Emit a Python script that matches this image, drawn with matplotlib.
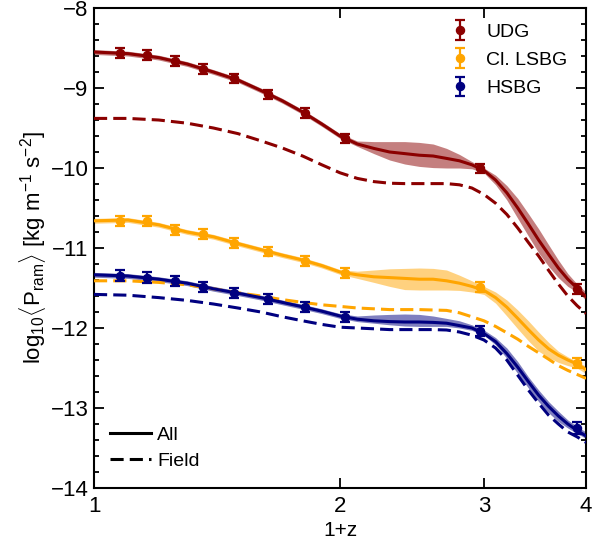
import numpy as np
import matplotlib
matplotlib.use("Agg")
import matplotlib.pyplot as plt
from matplotlib.lines import Line2D
from matplotlib.ticker import FixedLocator, NullLocator, MultipleLocator

plt.rcParams["font.family"] = ["Liberation Sans", "DejaVu Sans"]
plt.rcParams["mathtext.fontset"] = "custom"
plt.rcParams["mathtext.rm"] = "Liberation Sans"
plt.rcParams["mathtext.it"] = "Liberation Sans:italic"

x_grid = [1.0, 1.1, 1.2, 1.3, 1.4, 1.5, 1.6, 1.7, 1.8, 1.9, 2.0,
          2.1, 2.2, 2.3, 2.4, 2.5, 2.6, 2.7, 2.8, 2.9, 3.0,
          3.1, 3.2, 3.3, 3.4, 3.5, 3.6, 3.7, 3.8, 3.9, 4.0]

udg_all = [-8.55, -8.57, -8.62, -8.70, -8.80, -8.90, -9.03, -9.16, -9.30, -9.45, -9.60,
           -9.70, -9.755, -9.80, -9.82, -9.84, -9.85, -9.88, -9.91, -9.96, -10.03,
           -10.15, -10.31, -10.50, -10.70, -10.90, -11.08, -11.25, -11.39, -11.50, -11.61]
udg_hi = [-8.52, -8.54, -8.59, -8.67, -8.77, -8.87, -9.00, -9.13, -9.27, -9.42, -9.57,
          -9.6625, -9.67, -9.67, -9.67, -9.68, -9.70, -9.755, -9.83, -9.92, -10.00,
          -10.09, -10.22, -10.38, -10.57, -10.76, -10.96, -11.15, -11.32, -11.45, -11.55]
udg_lo = [-8.58, -8.60, -8.65, -8.73, -8.83, -8.93, -9.06, -9.19, -9.33, -9.48, -9.63,
          -9.73, -9.82, -9.90, -9.95, -9.98, -9.995, -10.00, -10.00, -10.01, -10.06,
          -10.21, -10.40, -10.63, -10.85, -11.06, -11.23, -11.37, -11.48, -11.55, -11.65]
udg_field = [-9.38, -9.38, -9.40, -9.44, -9.50, -9.57, -9.66, -9.75, -9.85, -9.96, -10.06,
             -10.13, -10.17, -10.19, -10.195, -10.195, -10.195, -10.195, -10.21, -10.25, -10.33,
             -10.44, -10.58, -10.75, -10.93, -11.10, -11.28, -11.45, -11.60, -11.72, -11.82]

lsbg_all = [-10.66, -10.65, -10.71, -10.80, -10.86, -10.945, -11.02, -11.09, -11.15, -11.22, -11.30,
            -11.335, -11.36, -11.37, -11.38, -11.39, -11.39, -11.41, -11.44, -11.48, -11.53,
            -11.62, -11.74, -11.88, -12.02, -12.15, -12.26, -12.34, -12.40, -12.45, -12.52]
lsbg_hi = [-10.63, -10.62, -10.68, -10.77, -10.83, -10.915, -10.99, -11.06, -11.12, -11.19, -11.27,
           -11.29, -11.275, -11.26, -11.255, -11.25, -11.255, -11.275, -11.34, -11.41, -11.48,
           -11.55, -11.65, -11.775, -11.91, -12.05, -12.18, -12.29, -12.36, -12.42, -12.48]
lsbg_lo = [-10.69, -10.68, -10.74, -10.83, -10.89, -10.975, -11.05, -11.12, -11.18, -11.25, -11.33,
           -11.38, -11.43, -11.48, -11.52, -11.525, -11.525, -11.525, -11.53, -11.55, -11.58,
           -11.69, -11.85, -12.01, -12.16, -12.29, -12.37, -12.43, -12.47, -12.50, -12.57]
lsbg_field = [-11.41, -11.41, -11.43, -11.46, -11.51, -11.56, -11.60, -11.645, -11.68, -11.71, -11.73,
              -11.75, -11.76, -11.77, -11.77, -11.77, -11.775, -11.78, -11.81, -11.86, -11.91,
              -11.98, -12.06, -12.14, -12.23, -12.31, -12.39, -12.47, -12.53, -12.58, -12.63]

hsbg_all = [-11.335, -11.35, -11.39, -11.44, -11.51, -11.565, -11.62, -11.68, -11.735, -11.79, -11.85,
            -11.89, -11.91, -11.92, -11.925, -11.925, -11.93, -11.94, -11.97, -12.00, -12.07,
            -12.17, -12.32, -12.49, -12.67, -12.84, -12.98, -13.10, -13.20, -13.28, -13.35]
hsbg_hi = [-11.305, -11.32, -11.36, -11.41, -11.48, -11.535, -11.59, -11.65, -11.705, -11.76, -11.82,
           -11.85, -11.8375, -11.83, -11.825, -11.83, -11.85, -11.88, -11.91, -11.96, -12.025,
           -12.12, -12.25, -12.42, -12.61, -12.775, -12.92, -13.04, -13.15, -13.23, -13.30]
hsbg_lo = [-11.365, -11.38, -11.42, -11.47, -11.54, -11.595, -11.65, -11.71, -11.765, -11.82, -11.88,
           -11.92, -11.94, -11.96, -11.975, -11.98, -11.98, -11.98, -12.00, -12.03, -12.09,
           -12.21, -12.38, -12.57, -12.75, -12.92, -13.06, -13.17, -13.25, -13.32, -13.38]
hsbg_field = [-11.58, -11.59, -11.62, -11.655, -11.70, -11.75, -11.80, -11.86, -11.91, -11.955, -11.99,
              -12.00, -12.01, -12.02, -12.02, -12.02, -12.02, -12.025, -12.05, -12.09, -12.15,
              -12.25, -12.40, -12.59, -12.775, -12.94, -13.09, -13.20, -13.30, -13.36, -13.43]

# ── measured points ───────────────────────────────────────────────
pt_x = [1.076, 1.160, 1.256, 1.361, 1.484, 1.634, 1.812, 2.028, 2.967, 3.896]
udg_pts = [-8.566, -8.588, -8.663, -8.763, -8.879, -9.079, -9.316, -9.629, -10.004, -11.51]
udg_err = [0.06, 0.06, 0.06, 0.06, 0.06, 0.06, 0.06, 0.06, 0.06, 0.06]
lsbg_pts = [-10.659, -10.659, -10.775, -10.825, -10.934, -11.046, -11.159, -11.316, -11.491, -12.434]
lsbg_err = [0.06, 0.06, 0.06, 0.06, 0.06, 0.06, 0.06, 0.06, 0.06, 0.06]
hsbg_pts = [-11.346, -11.371, -11.413, -11.484, -11.559, -11.641, -11.741, -11.866, -12.034, -13.25]
hsbg_err = [0.065, 0.065, 0.065, 0.065, 0.065, 0.065, 0.065, 0.065, 0.065, 0.07]

labels = ["UDG", "Cl. LSBG", "HSBG"]
colors = ["#8B0000", "#FFA500", "#000080"]

series = [
    (udg_all, udg_lo, udg_hi, udg_field, udg_pts, udg_err),
    (lsbg_all, lsbg_lo, lsbg_hi, lsbg_field, lsbg_pts, lsbg_err),
    (hsbg_all, hsbg_lo, hsbg_hi, hsbg_field, hsbg_pts, hsbg_err),
]

fig = plt.figure(figsize=(5.92, 5.45), dpi=100)
ax = fig.add_axes([0.1588, 0.1046, 0.8311, 0.8807])

handles = []
for (yall, ylo, yhi, yfield, ypts, yerr), col, lab in zip(series, colors, labels):
    ax.fill_between(x_grid, ylo, yhi, color=col, alpha=0.5, lw=0, zorder=2)
    ax.plot(x_grid, yfield, color=col, lw=2.2, dashes=(4.3, 2.0), zorder=3)
    ax.plot(x_grid, yall, color=col, lw=2.2, solid_joinstyle="round", zorder=4)
    eb = ax.errorbar(pt_x, ypts, yerr=yerr, fmt="o", color=col, ms=5.8,
                     capsize=3.6, elinewidth=1.6, capthick=1.6, zorder=5, label=lab)
    handles.append(eb)

ax.set_xscale("log")
ax.set_xlim(1, 4)
ax.set_ylim(-14, -8)
ax.xaxis.set_major_locator(FixedLocator([1, 2, 3, 4]))
ax.xaxis.set_minor_locator(NullLocator())
ax.set_xticklabels(["1", "2", "3", "4"])
ax.yaxis.set_major_locator(MultipleLocator(1))
ax.yaxis.set_minor_locator(MultipleLocator(0.2))
ax.set_yticklabels([f"\u2212{int(-v)}" for v in ax.get_yticks()])

ax.tick_params(which="both", direction="in", top=True, right=True, labelsize=16, width=1.3)
ax.tick_params(which="major", length=7, pad=4)
ax.tick_params(which="minor", length=3.5)
ax.tick_params(axis="x", which="major", pad=6)
for sp in ax.spines.values():
    sp.set_linewidth(1.5)

ax.set_xlabel("1+z", fontsize=15, labelpad=3)
ax.set_ylabel(r"log$_{10}\langle$P$_{\rm ram}\rangle$ [kg m$^{-1}$ s$^{-2}$]", fontsize=16, labelpad=2)

leg1 = ax.legend(handles=handles, loc="upper right", bbox_to_anchor=(0.978, 0.985),
                 frameon=False, fontsize=14, handlelength=1.0, handletextpad=0.84,
                 labelspacing=0.55, borderaxespad=0)
ax.add_artist(leg1)

style_handles = [Line2D([], [], color="black", lw=2.2),
                 Line2D([], [], color="black", lw=2.2, dashes=(4.3, 2.0))]
ax.legend(handles=style_handles, labels=["All", "Field"], loc="lower left",
          bbox_to_anchor=(0.016, 0.021), frameon=False, fontsize=14,
          handlelength=2.15, handletextpad=0.3, labelspacing=0.43, borderaxespad=0)

fig.savefig("out.png", dpi=100)
